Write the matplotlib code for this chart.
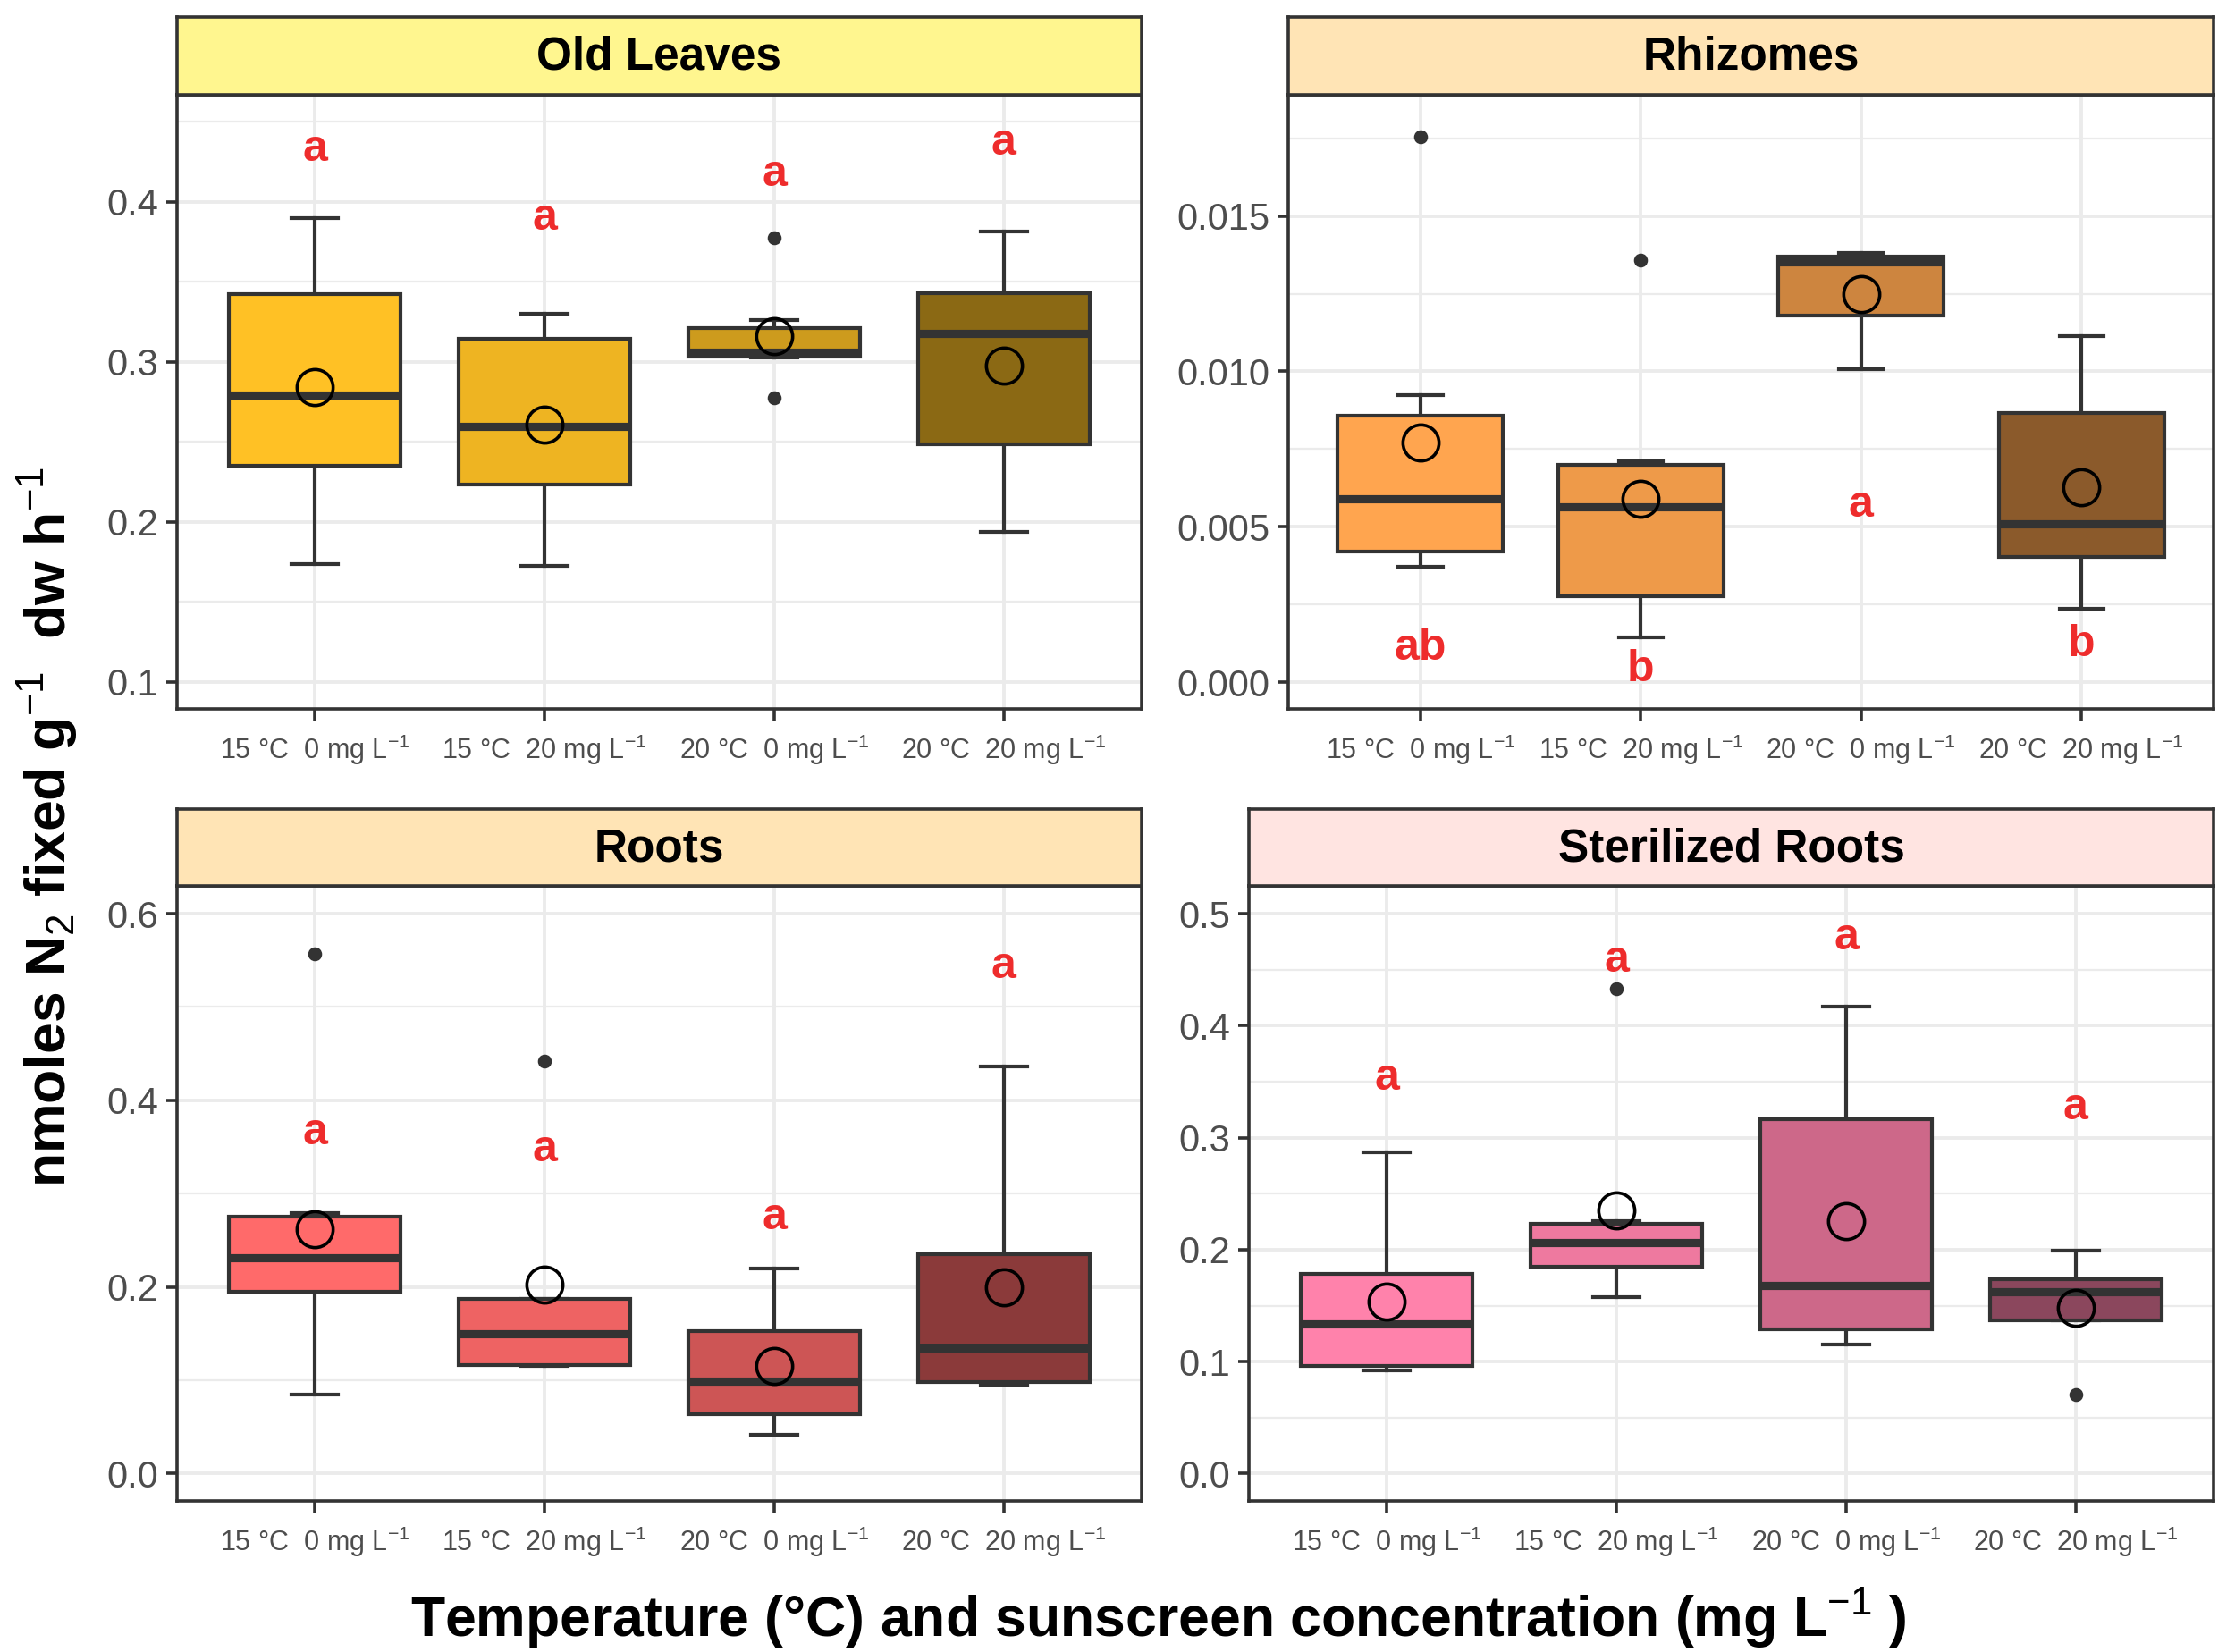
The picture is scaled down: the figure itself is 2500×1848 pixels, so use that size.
import matplotlib
matplotlib.use("Agg")
import matplotlib.pyplot as plt
import numpy as np

plt.rcParams['font.family'] = ['Liberation Sans', 'DejaVu Sans']
plt.rcParams['mathtext.fontset'] = 'custom'
plt.rcParams['mathtext.rm'] = 'Liberation Sans'
plt.rcParams['mathtext.it'] = 'Liberation Sans:italic'
plt.rcParams['mathtext.bf'] = 'Liberation Sans:bold'

# ---------------- data ----------------
groups = ["15 °C  0 mg L$^{-1}$", "15 °C  20 mg L$^{-1}$",
          "20 °C  0 mg L$^{-1}$", "20 °C  20 mg L$^{-1}$"]
tissues = ["Old Leaves", "Rhizomes", "Roots", "Sterilized Roots"]

old_whislo = [0.1734, 0.1725, 0.3024, 0.1937]
old_q1 = [0.2350, 0.2234, 0.3033, 0.2482]
old_med = [0.2790, 0.2595, 0.3059, 0.3178]
old_q3 = [0.3426, 0.3143, 0.3210, 0.3430]
old_whishi = [0.3900, 0.3300, 0.3259, 0.3813]
old_mean = [0.2843, 0.2608, 0.3159, 0.2978]
old_out = [[], [], [0.3774, 0.2775], []]
old_letters = ["a", "a", "a", "a"]
old_letter_y = [0.433, 0.390, 0.417, 0.437]

rhi_whislo = [0.00371, 0.00143, 0.01008, 0.00237]
rhi_q1 = [0.00420, 0.00275, 0.01179, 0.00404]
rhi_med = [0.00591, 0.00565, 0.01352, 0.00508]
rhi_q3 = [0.00856, 0.00700, 0.01370, 0.00866]
rhi_whishi = [0.00924, 0.00712, 0.01382, 0.01113]
rhi_mean = [0.00770, 0.00591, 0.01249, 0.00627]
rhi_out = [[0.01755], [0.01359], [], []]
rhi_letters = ["ab", "b", "a", "b"]
rhi_letter_y = [0.0011, 0.0004, 0.0057, 0.0012]

roo_whislo = [0.0851, 0.1150, 0.0414, 0.0950]
roo_q1 = [0.1945, 0.1160, 0.0635, 0.0978]
roo_med = [0.2315, 0.1497, 0.0994, 0.1343]
roo_q3 = [0.2757, 0.1873, 0.1525, 0.2354]
roo_whishi = [0.2796, 0.1873, 0.2199, 0.4365]
roo_mean = [0.2624, 0.2022, 0.1155, 0.2000]
roo_out = [[0.5569], [0.4425], [], []]
roo_letters = ["a", "a", "a", "a"]
roo_letter_y = [0.3657, 0.3475, 0.2746, 0.5436]

ste_whislo = [0.0925, 0.1576, 0.1152, 0.1369]
ste_q1 = [0.0963, 0.1844, 0.1285, 0.1369]
ste_med = [0.1333, 0.2060, 0.1680, 0.1622]
ste_q3 = [0.1784, 0.2230, 0.3166, 0.1733]
ste_whishi = [0.2871, 0.2253, 0.4170, 0.1991]
ste_mean = [0.1538, 0.2350, 0.2253, 0.1483]
ste_out = [[], [0.4331], [], [0.0705]]
ste_letters = ["a", "a", "a", "a"]
ste_letter_y = [0.3531, 0.4589, 0.4787, 0.3272]

old_colors = ["#FFC125", "#EEB422", "#CD9B1D", "#8B6914"]
rhi_colors = ["#FFA54F", "#EE9A49", "#CD853F", "#8B5A2B"]
roo_colors = ["#FF6A6A", "#EE6363", "#CD5555", "#8B3A3A"]
ste_colors = ["#FF82AB", "#EE799F", "#CD6889", "#8B475D"]
strip_colors = ["#FFF68F", "#FFE4B5", "#FFE4B5", "#FFE4E1"]

panels = [
    dict(lo=old_whislo, q1=old_q1, med=old_med, q3=old_q3, hi=old_whishi, mean=old_mean,
         out=old_out, let=old_letters, ly=old_letter_y, col=old_colors,
         ylim=(0.083, 0.467), ticks=[0.1, 0.2, 0.3, 0.4], minor=[0.15, 0.25, 0.35, 0.45], fmt="{:.1f}"),
    dict(lo=rhi_whislo, q1=rhi_q1, med=rhi_med, q3=rhi_q3, hi=rhi_whishi, mean=rhi_mean,
         out=rhi_out, let=rhi_letters, ly=rhi_letter_y, col=rhi_colors,
         ylim=(-0.00086, 0.0189), ticks=[0.0, 0.005, 0.010, 0.015], minor=[0.0025, 0.0075, 0.0125, 0.0175], fmt="{:.3f}"),
    dict(lo=roo_whislo, q1=roo_q1, med=roo_med, q3=roo_q3, hi=roo_whishi, mean=roo_mean,
         out=roo_out, let=roo_letters, ly=roo_letter_y, col=roo_colors,
         ylim=(-0.0293, 0.6298), ticks=[0.0, 0.2, 0.4, 0.6], minor=[0.1, 0.3, 0.5], fmt="{:.1f}"),
    dict(lo=ste_whislo, q1=ste_q1, med=ste_med, q3=ste_q3, hi=ste_whishi, mean=ste_mean,
         out=ste_out, let=ste_letters, ly=ste_letter_y, col=ste_colors,
         ylim=(-0.0244, 0.5249), ticks=[0.0, 0.1, 0.2, 0.3, 0.4, 0.5], minor=[0.05, 0.15, 0.25, 0.35, 0.45], fmt="{:.1f}"),
]

# ---------------- layout ----------------
W, H = 2500, 1848
fig = plt.figure(figsize=(W / 200, H / 200), dpi=200)

# pixel boxes: left, right, strip_top, panel_top, panel_bottom
boxes = [
    (198, 1277, 19, 106, 793),
    (1441, 2476, 19, 106, 793),
    (198, 1277, 905, 991, 1679),
    (1397, 2476, 905, 991, 1679),
]

dark = "#333333"
grid_c = "#EBEBEB"

for p, t, (l, r, st, pt, pb), sc in zip(panels, tissues, boxes, strip_colors):
    ax = fig.add_axes([l / W, 1 - pb / H, (r - l) / W, (pb - pt) / H])
    sax = fig.add_axes([l / W, 1 - pt / H, (r - l) / W, (pt - st) / H])
    sax.set_facecolor(sc)
    sax.set_xticks([]); sax.set_yticks([])
    for s in sax.spines.values():
        s.set_color(dark); s.set_linewidth(1.3)
    sax.text(0.5, 0.48, t, ha="center", va="center", fontsize=18.5, fontweight="bold",
             color="black", transform=sax.transAxes)

    xs = np.arange(1, 5)
    stats = []
    for i in range(4):
        stats.append(dict(whislo=p["lo"][i], q1=p["q1"][i], med=p["med"][i],
                          q3=p["q3"][i], whishi=p["hi"][i], fliers=p["out"][i]))
    bp = ax.bxp(stats, positions=xs, widths=0.75, capwidths=0.2, patch_artist=True,
                showfliers=True, manage_ticks=False,
                boxprops=dict(edgecolor=dark, linewidth=1.5),
                whiskerprops=dict(color=dark, linewidth=1.5),
                capprops=dict(color=dark, linewidth=1.5),
                medianprops=dict(color=dark, linewidth=3.3, solid_capstyle="butt"),
                flierprops=dict(marker="o", markerfacecolor=dark, markeredgecolor=dark,
                                markersize=4.6, linestyle="none"))
    for patch, c in zip(bp["boxes"], p["col"]):
        patch.set_facecolor(c)
        patch.set_zorder(3)
    for k in ("whiskers", "caps"):
        for ln in bp[k]:
            ln.set_zorder(2.5)
    for ln in bp["medians"]:
        ln.set_zorder(4)
    ax.plot(xs, p["mean"], linestyle="none", marker="o", markersize=14.5,
            markerfacecolor="none", markeredgecolor="black", markeredgewidth=1.3, zorder=5)
    for x, lt, ly in zip(xs, p["let"], p["ly"]):
        ax.text(x, ly, lt, ha="center", va="center", fontsize=18, fontweight="bold",
                color="#EE2C2C", zorder=6)

    ax.set_xlim(0.4, 4.6)
    ax.set_ylim(*p["ylim"])
    ax.set_xticks(xs)
    ax.set_xticklabels(groups, fontsize=11, color="#4D4D4D")
    ax.set_yticks(p["ticks"])
    ax.set_yticklabels([p["fmt"].format(v) for v in p["ticks"]], fontsize=15, color="#4D4D4D")
    ax.set_yticks(p["minor"], minor=True)
    ax.tick_params(axis="y", which="minor", length=0)
    ax.tick_params(axis="both", which="major", length=4.5, width=1.3, color=dark, pad=3)
    ax.tick_params(axis="x", pad=5)
    ax.grid(True, which="major", color=grid_c, linewidth=1.4, zorder=0)
    ax.grid(True, which="minor", axis="y", color=grid_c, linewidth=0.8, zorder=0)
    ax.set_axisbelow(True)
    for s in ax.spines.values():
        s.set_color(dark); s.set_linewidth(1.3)

fig.text(1296 / W, 1 - 1810 / H,
         "Temperature (°C) and sunscreen concentration (mg L$^{-1}$ )",
         ha="center", va="center", fontsize=22.5, fontweight="bold")
fig.text(53 / W, 1 - 925 / H,
         "nmoles N$_{2}$ fixed g$^{-1}$  dw h$^{-1}$",
         ha="center", va="center", rotation=90, fontsize=22.5, fontweight="bold")

fig.savefig("out.png", dpi=200, facecolor="white")
